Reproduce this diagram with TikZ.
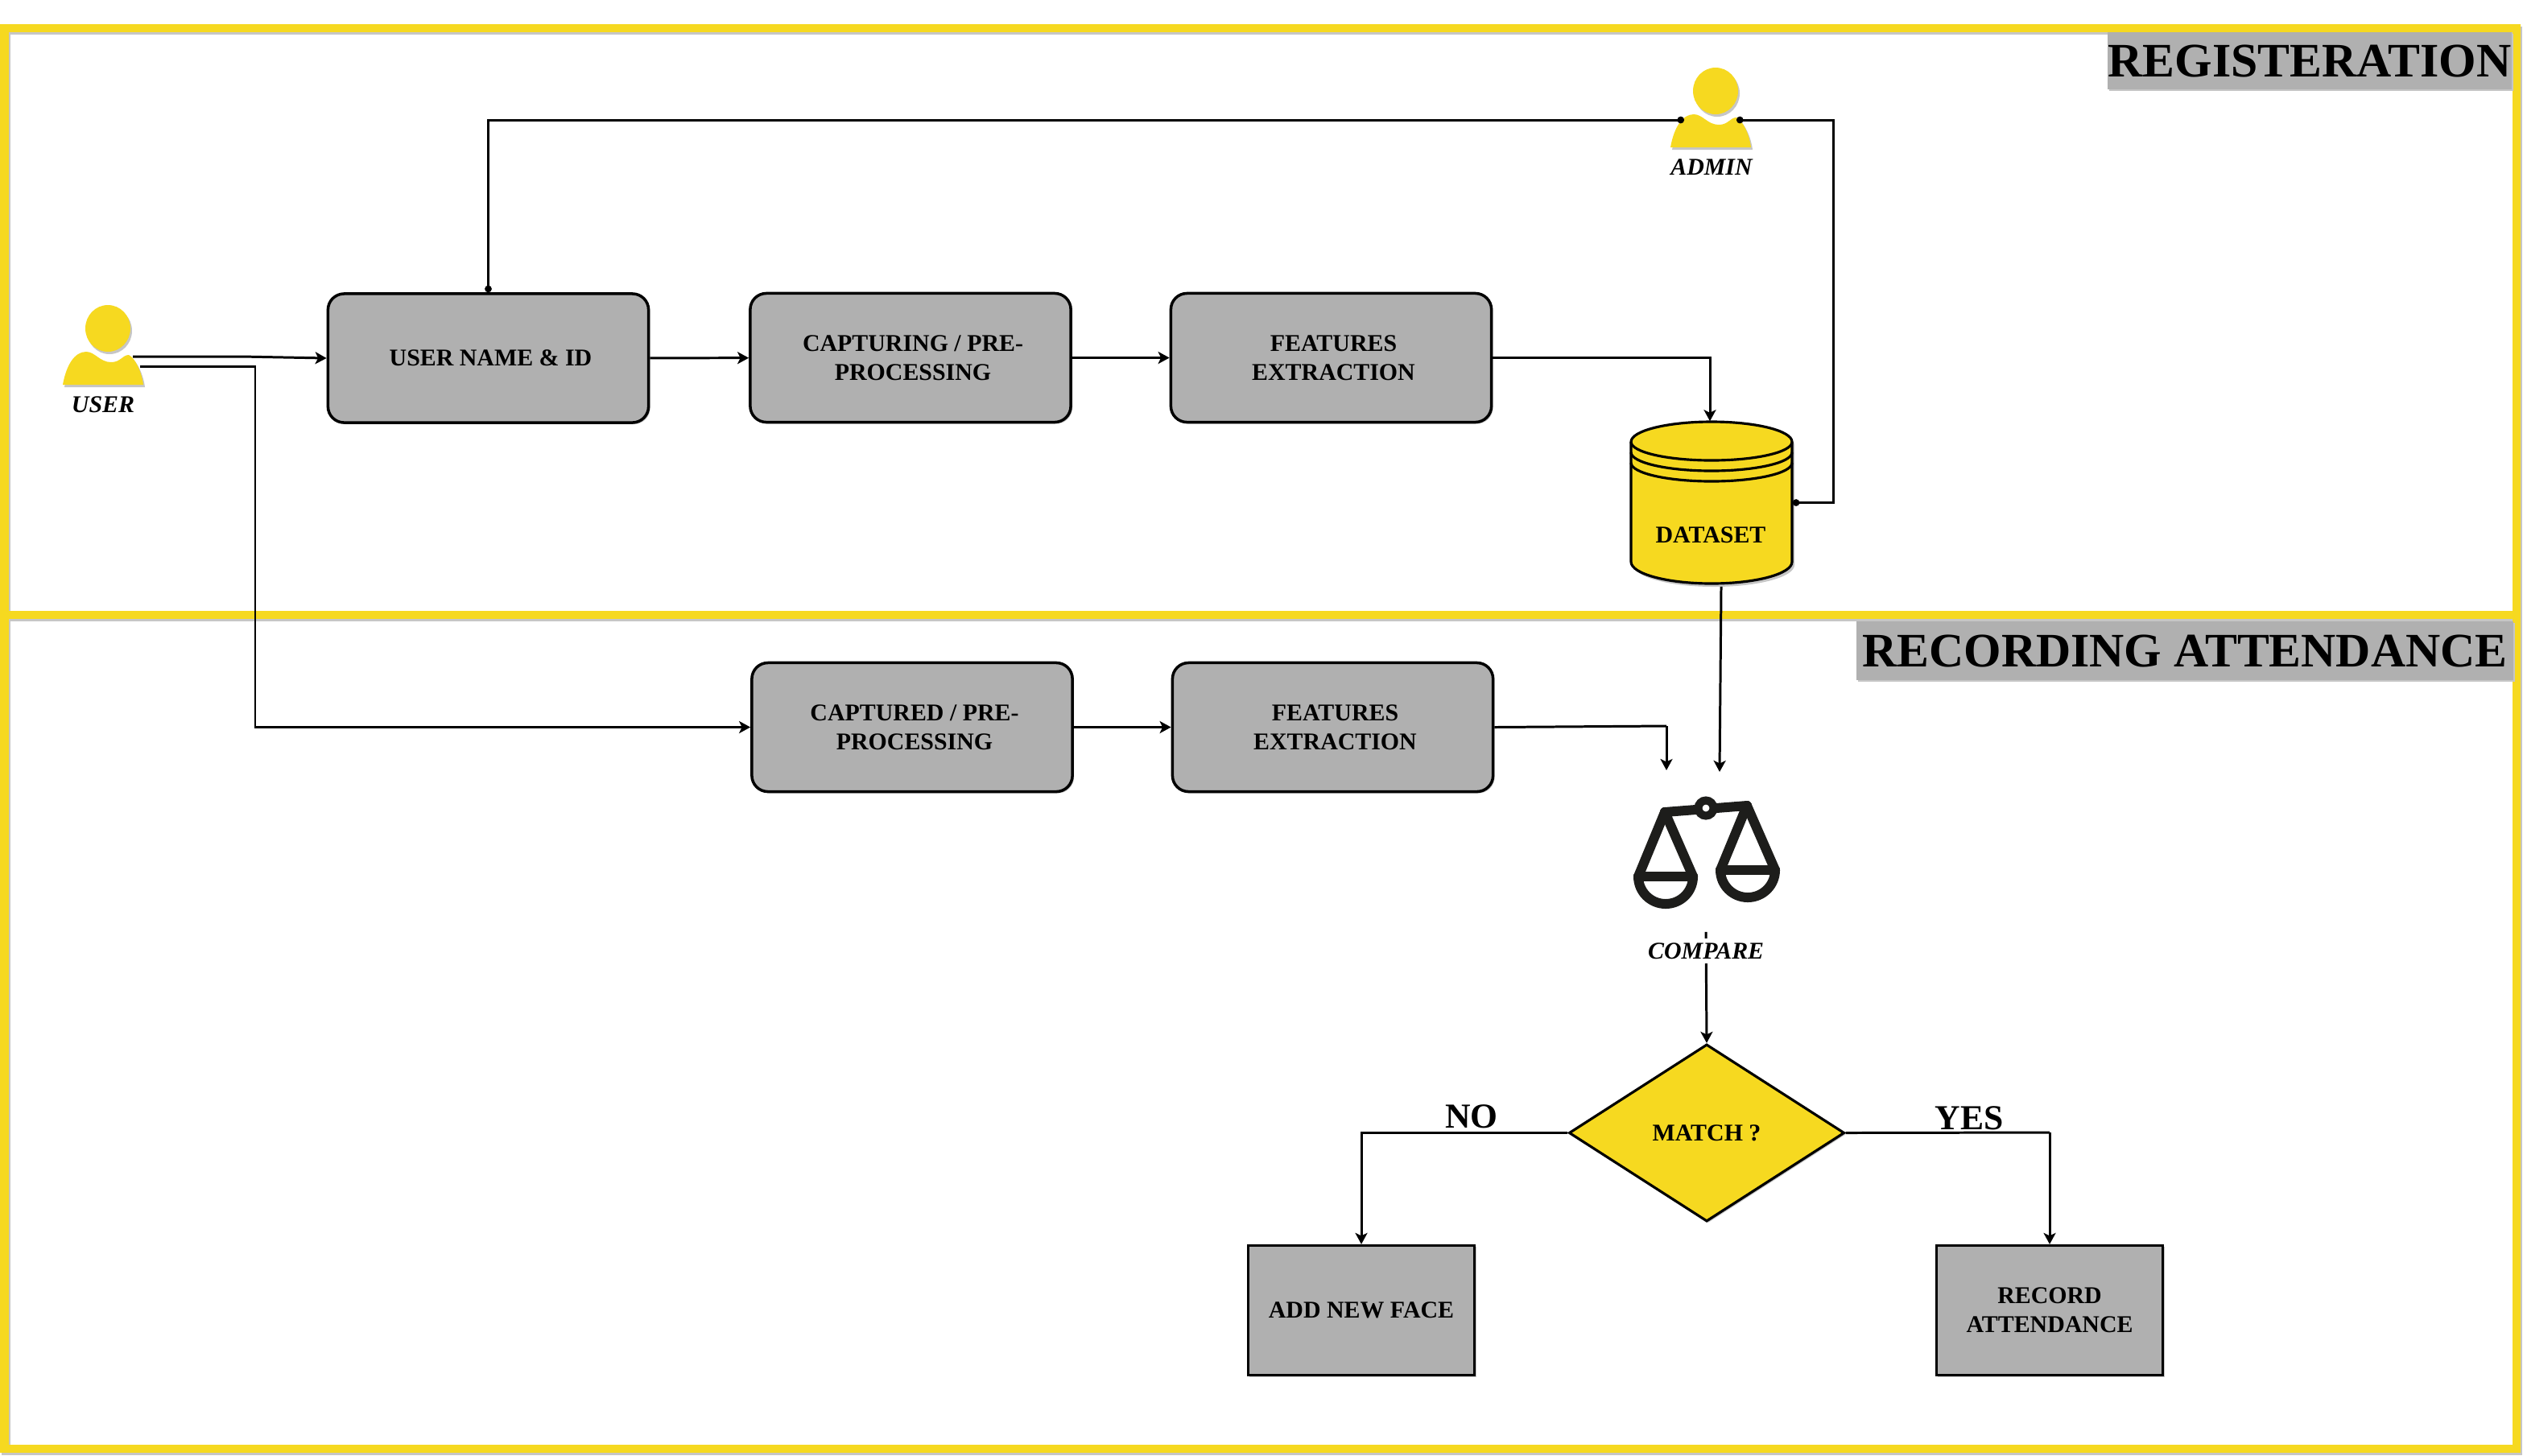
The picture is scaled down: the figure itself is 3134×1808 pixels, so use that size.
\documentclass[tikz,border=0pt]{standalone}
\usepackage{fontspec}
\setmainfont{Liberation Serif}
\usetikzlibrary{arrows.meta,shapes.geometric,shadows,calc}
\definecolor{bandyellow}{HTML}{F6D920}
\definecolor{boxgray}{HTML}{B0B0B0}
\definecolor{shadowgray}{HTML}{C6C6C6}
\definecolor{scaleink}{HTML}{1D1D1B}
\tikzset{
  softshadow/.style={general shadow={shadow xshift=.02cm,shadow yshift=-.02cm,fill=shadowgray}},
  boxtext/.style={font=\bfseries\fontsize{8.5}{10.2}\selectfont,align=center,text=black},
  procbox/.style={draw=black,line width=1pt,fill=boxgray,rounded corners=.2cm,minimum width=3.98cm,minimum height=1.6cm,inner sep=0pt,softshadow,
    label={[boxtext,xshift=.03cm]center:{#1}}},
  rectbox/.style={boxtext,draw=black,line width=.9pt,fill=boxgray,minimum width=2.81cm,minimum height=1.61cm,inner sep=0pt,softshadow},
  decision/.style={boxtext,diamond,draw=black,line width=.9pt,fill=bandyellow,minimum width=3.42cm,minimum height=2.2cm,inner sep=0pt,aspect=1.555,softshadow},
  actorlabel/.style={font=\bfseries\itshape\fontsize{8.5}{10}\selectfont,inner sep=1pt},
  bandtitle/.style={font=\bfseries\fontsize{17}{20}\selectfont,fill=boxgray,inner sep=0pt,text=black,softshadow},
  branchlabel/.style={font=\bfseries\fontsize{12.4}{14}\selectfont,inner sep=0pt},
  conn/.style={draw=black,line width=.85pt},
  flow/.style={conn,-{Stealth[length=.14cm,width=.15cm,inset=.035cm]}},
  band/.style={draw=bandyellow,line width=.1cm},
  bandshadow/.style={draw=shadowgray,line width=.1cm},
  scaleline/.style={draw=scaleink,line width=.12cm,line cap=round,line join=round},
  dot/.style={{Circle[length=.085cm,width=.085cm]}-{Circle[length=.085cm,width=.085cm]}},
}
\newcommand{\personfig}[2]{%
  \begin{scope}[shift={(#1,#2)}]
    \foreach \ox/\oy/\col in {2/3/shadowgray,0/0/bandyellow}{
      \fill[\col,shift={(\ox,\oy)}] (134,408) circle [x radius=28,y radius=29];
      \fill[\col,shift={(\ox,\oy)}] (78,478) .. controls (82,455) and (92,437) .. (107,437)
        .. controls (118,437) and (124,450) .. (138,450)
        .. controls (150,450) and (152,441) .. (160,441)
        .. controls (168,445) and (176,462) .. (178,478) -- cycle;
    }
  \end{scope}}
\begin{document}
\begin{tikzpicture}[x=.01cm,y=-.01cm]
\useasboundingbox (0,0) rectangle (3134,1808);
% bands
\draw[bandshadow,shift={(2,3)}] (5.5,34.5) rectangle (3126,1799.5);
\draw[bandshadow,shift={(2,3)}] (5.5,764) -- (3126,764);
\draw[band] (5.5,34.5) rectangle (3126,1799.5);
\draw[band] (5.5,764) -- (3126,764);
% band titles
\node[bandtitle,minimum width=5.02cm,minimum height=.71cm] (regtitle) at (2869,75.5) {REGISTERATION};
\node[bandtitle,minimum width=8.16cm,minimum height=.73cm] (rectitle) at (2714,808.5) {RECORDING ATTENDANCE};
% actors
\personfig{0}{0}
\personfig{1997}{-295}
\node[actorlabel] (userlabel) at (128,503) {USER};
\node[actorlabel] (adminlabel) at (2126,208) {ADMIN};
\coordinate (userA) at (165,443);
\coordinate (userB) at (174,455);
\coordinate (adminL) at (2092,149);
\coordinate (adminR) at (2157,149);
% boxes
\node[procbox={USER NAME \& ID}] (uname) at (606.5,445) {};
\node[procbox={CAPTURING / PRE-\\PROCESSING}] (capture) at (1131,444.5) {};
\node[procbox={FEATURES\\EXTRACTION}] (features) at (1653.5,444.5) {};
\node[procbox={CAPTURED / PRE-\\PROCESSING}] (captured) at (1133,903.5) {};
\node[procbox={FEATURES\\EXTRACTION}] (featuresb) at (1655.5,903.5) {};
\node[rectbox] (addface) at (1691,1628) {ADD NEW FACE};
\node[rectbox] (record) at (2546,1628) {RECORD\\ATTENDANCE};
% dataset cylinder
\fill[shadowgray,shift={(3,4)}] (2026,549) arc[start angle=180,end angle=360,x radius=100,y radius=25] -- (2226,698) arc[start angle=0,end angle=180,x radius=100,y radius=27] -- cycle;
\draw[fill=bandyellow,line width=.9pt] (2026,549) arc[start angle=180,end angle=360,x radius=100,y radius=25] -- (2226,698) arc[start angle=0,end angle=180,x radius=100,y radius=27] -- cycle;
\draw[line width=.9pt] (2026,549) arc[start angle=180,end angle=0,x radius=100,y radius=23];
\draw[line width=.9pt] (2026,562) arc[start angle=180,end angle=0,x radius=100,y radius=23];
\draw[line width=.9pt] (2026,575) arc[start angle=180,end angle=0,x radius=100,y radius=23];
\node[minimum width=2cm,minimum height=2.01cm,inner sep=0pt] (dataset) at (2126,624.5) {};
\node[boxtext] (datasetlabel) at (2125,665) {DATASET};
% scales
\node[minimum width=1.84cm,minimum height=1.42cm,inner sep=0pt] (scales) at (2119,1065) {};
\begin{scope}
  \draw[scaleline] (2068,1009) -- (2170,1001);
  \draw[scaleline] (2068,1009) -- (2035,1089);
  \draw[scaleline] (2068,1009) -- (2103,1089);
  \draw[scaleline] (2170,1001) -- (2137,1081);
  \draw[scaleline] (2170,1001) -- (2205,1081);
  \draw[scaleline] (2035,1089) -- (2103,1089);
  \draw[scaleline] (2137,1081) -- (2205,1081);
  \draw[scaleline] (2035,1089) arc[start angle=180,end angle=0,radius=34];
  \draw[scaleline] (2137,1081) arc[start angle=180,end angle=0,radius=34];
  \draw[scaleink,line width=.1cm,fill=white] (2119,1004) circle [radius=9.5];
\end{scope}
% decision
\node[decision] (match) at (2120,1407.5) {MATCH ?};
% connectors
\coordinate (cmpin) at (2070,957);
\coordinate (dsin) at (2136,959);
\coordinate (adminturn) at (2277,400);
\coordinate (cbend) at (2070,902);
\coordinate (ybend) at (2546,1407);
\coordinate (usertwo) at (317,700);
\draw[flow] (userA) -- (300,443) -- (uname.west);
\draw[conn] (userB) -- (317,455) -- (usertwo);
\draw[flow] (usertwo) |- (captured.west);
\draw[flow] (uname) -- (capture);
\draw[flow] (capture) -- (features);
\draw[flow] (features.east) -| ([xshift=-.02cm]dataset.north);
\draw[flow] (captured) -- (featuresb);
\draw[conn] (featuresb.east) -- (cbend);
\draw[flow] (cbend) -- (cmpin);
\draw[flow] ([xshift=.12cm]dataset.south) ++(0,3) -- (dsin);
\draw[conn,dot] (uname.north) |- (adminL);
\draw[conn,dot] (adminR) -| (adminturn) |- (dataset.east);
\draw[flow] (scales.south) ++(0,21) -- node[pos=.17,fill=white,font=\bfseries\itshape\fontsize{8.5}{10}\selectfont,inner xsep=0pt,inner ysep=1.5pt] (cmplabel) {COMPARE} (match.north);
\draw[flow] (match.west) -| (addface.north);
\draw[conn] (match.east) -- (ybend);
\draw[flow] (ybend) -- (record.north);
\node[branchlabel] (nolabel) at (1828,1387) {NO};
\node[branchlabel] (yeslabel) at (2446,1389) {YES};
\end{tikzpicture}
\end{document}
